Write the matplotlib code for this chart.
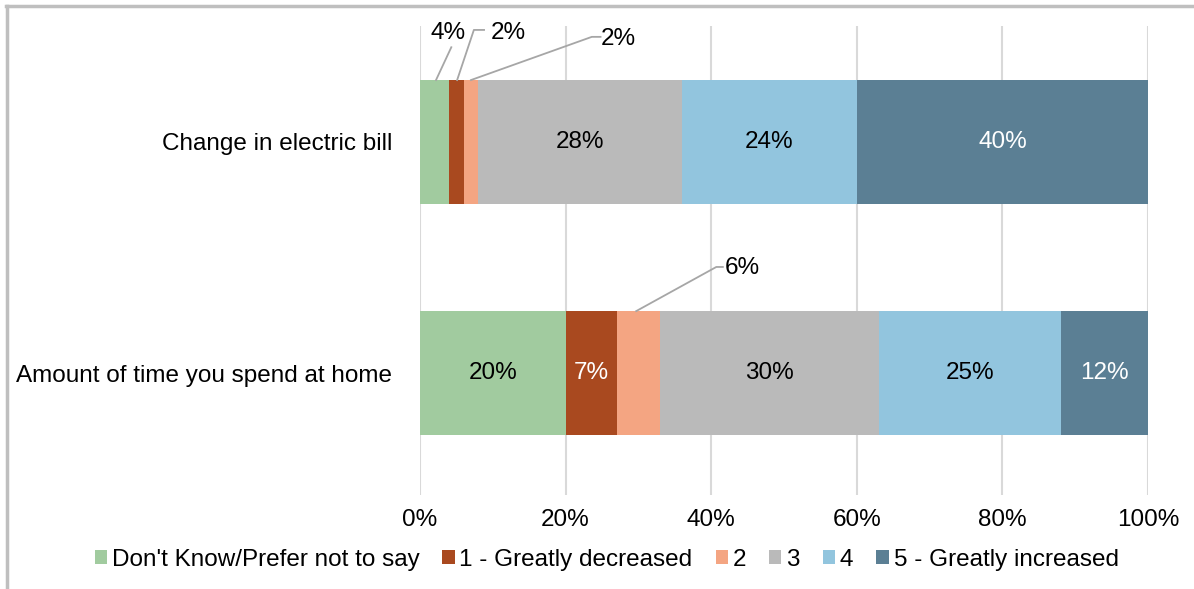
import matplotlib.pyplot as plt
from matplotlib.lines import Line2D
from matplotlib.patches import Patch
import numpy as np

plt.rcParams['font.family'] = ['Liberation Sans', 'DejaVu Sans']

categories = ['Change in electric bill', 'Amount of time you spend at home']
series = ["Don't Know/Prefer not to say", '1 - Greatly decreased', '2', '3', '4',
          '5 - Greatly increased']
colors = ['#A1CB9F', '#A9491F', '#F4A582', '#BABABA', '#92C5DE', '#5B7F94']
text_colors = ['black', 'white', 'black', 'black', 'black', 'white']

# percent per series, one value per category
dont_know = [4, 20]
decreased = [2, 7]
two = [2, 6]
three = [28, 30]
four = [24, 25]
increased = [40, 12]
values = [dont_know, decreased, two, three, four, increased]

FS = 17.5

# small segments get their label outside the bar with a leader line
# (category, series) -> (text x, text y, line path)
callouts = {
    (0, 0): (3.85, -0.47, [(2.2, -0.268), (4.3, -0.41)]),
    (0, 1): (12.1, -0.47, [(5.1, -0.268), (7.4, -0.485), (8.8, -0.485)]),
    (0, 2): (27.2, -0.445, [(7.0, -0.268), (23.6, -0.455), (24.8, -0.455)]),
    (1, 2): (44.3, 0.545, [(29.7, 0.732), (40.7, 0.541), (41.6, 0.541)]),
}

fig = plt.figure(figsize=(11.94, 5.89), dpi=100)
ax = fig.add_axes([420 / 1194, 1 - 495 / 589, 728 / 1194, 469 / 589])

y = np.arange(len(categories))
left = np.zeros(len(categories))
for i, vals in enumerate(values):
    vals = np.array(vals, dtype=float)
    ax.barh(y, vals, left=left, height=0.536, color=colors[i], zorder=3)
    for j, v in enumerate(vals):
        label = f'{v:.0f}%'
        if (j, i) in callouts:
            tx, ty, path = callouts[(j, i)]
            xs, ys = zip(*path)
            ax.plot(xs, ys, color='#A6A6A6', lw=1.3, zorder=4, clip_on=False)
            ax.text(tx, ty, label, ha='center', va='center', fontsize=FS,
                    color='black', clip_on=False)
        else:
            ax.text(left[j] + v / 2, y[j], label, ha='center', va='center',
                    fontsize=FS, color=text_colors[i], zorder=5)
    left += vals

ax.set_xlim(0, 100)
ax.set_ylim(1.528, -0.502)
ax.set_xticks(np.arange(0, 101, 20))
ax.set_xticklabels([f'{t}%' for t in range(0, 101, 20)], fontsize=FS)
ax.set_yticks(y)
ax.set_yticklabels(categories, fontsize=FS)
ax.tick_params(axis='both', length=0)
ax.tick_params(axis='y', pad=20)
ax.tick_params(axis='x', pad=10)
ax.grid(axis='x', color='#D9D9D9', lw=1.5, zorder=0)
for s in ax.spines.values():
    s.set_visible(False)

handles = [Patch(facecolor=c, edgecolor='none') for c in colors]
fig.legend(handles, series, loc='center', bbox_to_anchor=(0.508, 1 - 560 / 589),
           ncol=6, frameon=False, fontsize=FS, handlelength=0.5,
           handleheight=0.5, handletextpad=0.2, columnspacing=0.95)

# outer frame, only top and left edges fall inside the image
fig.add_artist(Line2D([6 / 1194, 1], [1 - 5.5 / 589] * 2, color='#BFBFBF', lw=2.5,
                      transform=fig.transFigure))
fig.add_artist(Line2D([6.5 / 1194] * 2, [0, 1 - 5.5 / 589], color='#BFBFBF', lw=2.5,
                      transform=fig.transFigure))

fig.savefig('out.png', dpi=100)
